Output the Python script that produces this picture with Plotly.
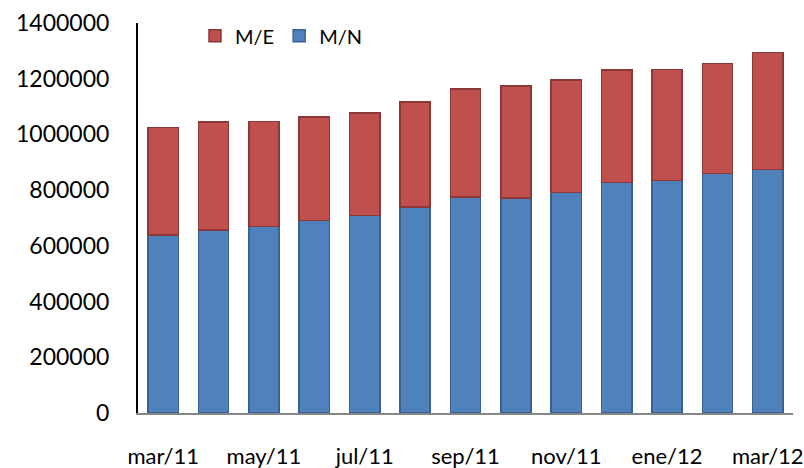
import plotly.graph_objects as go

categories = ["mar/11", "abr/11", "may/11", "jun/11", "jul/11", "ago/11", "sep/11",
              "oct/11", "nov/11", "dic/11", "ene/12", "feb/12", "mar/12"]
mn_values = [638500, 657500, 669400, 691000, 709000, 740300, 775200,
             772700, 791800, 827800, 833900, 859100, 874500]
me_values = [387200, 387600, 376800, 370700, 368500, 375400, 388700,
             402000, 404500, 403000, 398400, 395900, 419000]
tick_cats = categories[::2]
y_ticks = [0, 200000, 400000, 600000, 800000, 1000000, 1200000, 1400000]

FONT = "Lato, 'Open Sans', sans-serif"

fig = go.Figure()
fig.add_trace(go.Bar(x=categories, y=mn_values, name="M/N",
                     marker=dict(color="#4F81BD", line=dict(color="#3A6190", width=1.5))))
fig.add_trace(go.Bar(x=categories, y=me_values, name="M/E",
                     marker=dict(color="#C0504D", line=dict(color="#8C3836", width=1.5))))

fig.update_layout(
    barmode="stack",
    bargap=0.4,
    width=804, height=468,
    margin=dict(l=138, r=11, t=23, b=55, autoexpand=False),
    paper_bgcolor="white", plot_bgcolor="white",
    font=dict(family=FONT, color="black", size=22),
    showlegend=True,
    legend=dict(orientation="h", traceorder="reversed", x=0.087, y=0.967,
                xanchor="left", yanchor="middle", font=dict(size=20),
                bgcolor="rgba(0,0,0,0)", itemwidth=30),
)
fig.update_xaxes(
    type="category", tickmode="array", tickvals=tick_cats, ticktext=tick_cats,
    showline=True, linecolor="#868686", linewidth=2, ticks="",
    showgrid=False, ticklabelstandoff=23, automargin=False,
    tickfont=dict(size=22),
)
fig.update_yaxes(
    range=[0, 1400000], tickmode="array", tickvals=y_ticks,
    ticktext=[str(v) for v in y_ticks],
    showline=True, linecolor="black", linewidth=2, ticks="",
    showgrid=False, zeroline=False, ticklabelstandoff=22, automargin=False,
    tickfont=dict(size=23),
)

fig.write_html("out.html", config={"displayModeBar": False},
               post_script="document.body.style.margin='0';document.body.style.overflow='hidden';")
